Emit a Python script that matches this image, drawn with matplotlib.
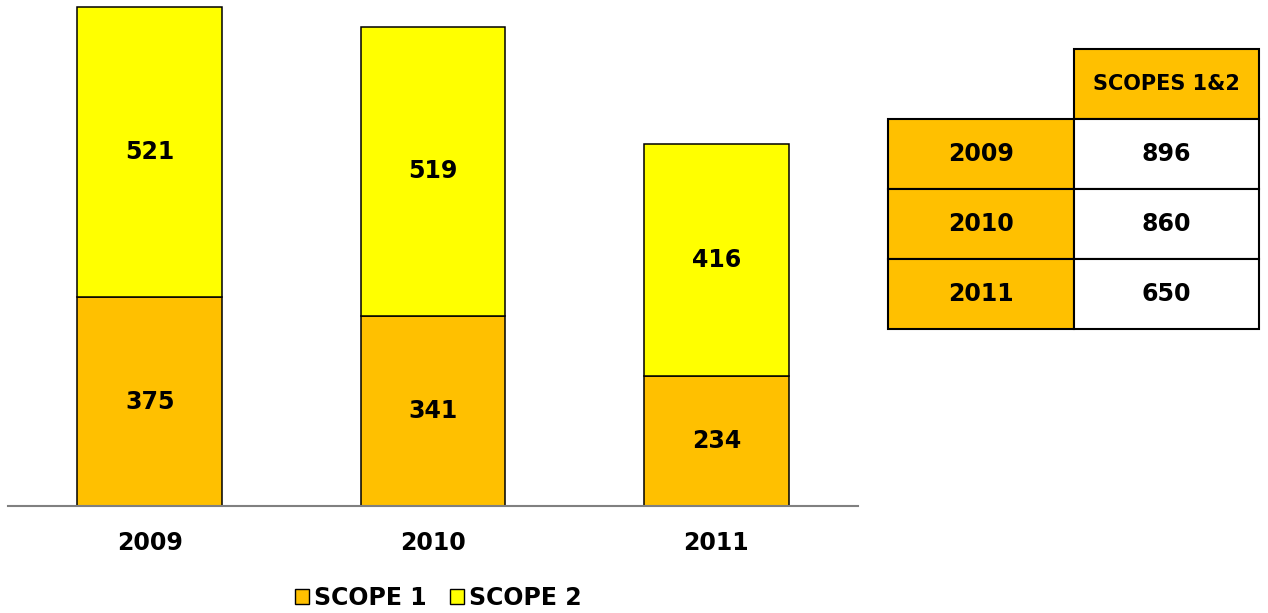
import numpy as np
import matplotlib.pyplot as plt
from matplotlib.patches import Patch

years = ["2009", "2010", "2011"]
scope1 = [375, 341, 234]
scope2 = [521, 519, 416]
totals = [896, 860, 650]

orange = "#FFC000"
yellow = "#FFFF00"

plt.rcParams["font.family"] = "DejaVu Sans"
plt.rcParams["font.weight"] = "bold"

W, H = 1268, 613
fig = plt.figure(figsize=(W / 100, H / 100), dpi=100)

# bar chart
ax = fig.add_axes([8 / W, (H - 506) / H, 850 / W, 506 / H])
x = np.arange(len(years))
b1 = ax.bar(x, scope1, width=0.51, color=orange, edgecolor="black", linewidth=1.1)
b2 = ax.bar(x, scope2, width=0.51, bottom=scope1, color=yellow, edgecolor="black", linewidth=1.1)
ax.bar_label(b1, labels=[str(v) for v in scope1], label_type="center", fontsize=17, fontweight="bold")
ax.bar_label(b2, labels=[str(v) for v in scope2], label_type="center", fontsize=17, fontweight="bold")

ax.set_xlim(-0.5, 2.5)
ax.set_ylim(0, 908)
ax.set_xticks(x)
ax.set_xticklabels(years, fontsize=17, fontweight="bold")
ax.tick_params(axis="x", length=0, pad=18)
ax.set_yticks([])
for s in ["top", "left", "right"]:
    ax.spines[s].set_visible(False)
ax.spines["bottom"].set_color("#808080")
ax.spines["bottom"].set_linewidth(1.5)

# legend
handles = [Patch(facecolor=orange, edgecolor="black", label="SCOPE 1"),
           Patch(facecolor=yellow, edgecolor="black", label="SCOPE 2")]
fig.legend(handles=handles, loc="center", bbox_to_anchor=(438 / W, (H - 598) / H),
           ncol=2, frameon=False, handlelength=0.6, handleheight=0.6,
           handletextpad=0.2, columnspacing=1.0,
           prop={"size": 17, "weight": "bold"})

# totals table
tax = fig.add_axes([888 / W, (H - 329) / H, 371 / W, 280 / H])
tax.axis("off")
rows = [[y, str(t)] for y, t in zip(years, totals)]
tbl = tax.table(cellText=rows, colLabels=["", "SCOPES 1&2"], bbox=[0, 0, 1, 1],
                cellLoc="center")
tbl.auto_set_font_size(False)
for (r, c), cell in tbl.get_celld().items():
    cell.set_linewidth(1.5)
    cell.set_edgecolor("black")
    cell.get_text().set_fontweight("bold")
    cell.get_text().set_fontsize(17)
    if r == 0 or c == 0:
        cell.set_facecolor(orange)
    if r == 0:
        cell.get_text().set_fontsize(15)
    if r == 0 and c == 0:
        cell.set_visible(False)

fig.savefig("out.png", dpi=100)
